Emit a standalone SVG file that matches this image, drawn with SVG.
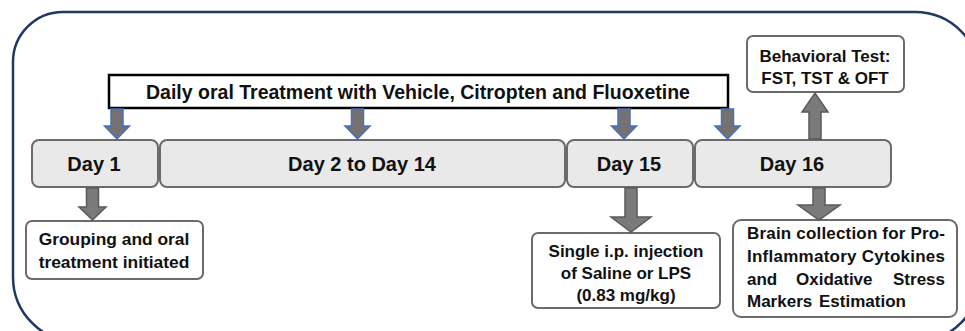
<svg xmlns="http://www.w3.org/2000/svg" width="965" height="331" viewBox="0 0 965 331">
<style>
.t{font-family:"Liberation Sans",Arial,sans-serif;font-weight:bold;fill:#111;}
.day{fill:#e9e9e9;stroke:#6b6b6b;stroke-width:2;}
.wbox{fill:#fff;stroke:#6b6b6b;stroke-width:2;}
.ta{fill:#767171;stroke:#4472c4;stroke-width:1.5;stroke-linejoin:miter;}
.ga{fill:#7a7a7a;stroke:#5a5a5a;stroke-width:1.5;}
</style>
<rect width="965" height="331" fill="#fff"/>
<path id="frame" d="M13,62 A50,50 0 0 1 63,12 L915,12 A65,65 0 0 1 980,77 L980,277 A65,65 0 0 1 915,342 L78,342 A65,65 0 0 1 13,277 Z" fill="none" stroke="#1f3864" stroke-width="2.5"/>
<g id="treatment">
<rect x="109" y="75" width="619" height="33" fill="#fff" stroke="#000" stroke-width="2.5"/>
<text class="t" x="418" y="98.5" font-size="19.5" text-anchor="middle">Daily oral Treatment with Vehicle, Citropten and Fluoxetine</text>
</g>
<g id="day1">
<rect class="day" x="32" y="140" width="126" height="47" rx="7"/>
<text class="t" x="94" y="171" font-size="20" text-anchor="middle">Day 1</text>
</g>
<g id="day2to14">
<rect class="day" x="160" y="140" width="405" height="47" rx="7"/>
<text class="t" x="362" y="171" font-size="20" text-anchor="middle">Day 2 to Day 14</text>
</g>
<g id="day15">
<rect class="day" x="567" y="140" width="126" height="47" rx="7"/>
<text class="t" x="629" y="171" font-size="20" text-anchor="middle">Day 15</text>
</g>
<g id="day16">
<rect class="day" x="695" y="140" width="196" height="47" rx="7"/>
<text class="t" x="792" y="171" font-size="20" text-anchor="middle">Day 16</text>
</g>
<g id="behavioral">
<rect class="wbox" x="747" y="36" width="157" height="56" rx="6"/>
<text class="t" x="825" y="62" font-size="17" text-anchor="middle">Behavioral Test:</text>
<text class="t" x="825" y="84" font-size="17" text-anchor="middle">FST, TST &amp; OFT</text>
</g>
<g id="grouping">
<rect class="wbox" x="26" y="221" width="177" height="58" rx="6"/>
<text class="t" x="114" y="245" font-size="17.4" text-anchor="middle">Grouping and oral</text>
<text class="t" x="114" y="268" font-size="17.4" text-anchor="middle">treatment initiated</text>
</g>
<g id="injection">
<rect class="wbox" x="532" y="233" width="188" height="75" rx="6"/>
<text class="t" x="626" y="257" font-size="17" text-anchor="middle">Single i.p. injection</text>
<text class="t" x="626" y="279" font-size="17" text-anchor="middle">of Saline or LPS</text>
<text class="t" x="626" y="301" font-size="17" text-anchor="middle">(0.83 mg/kg)</text>
</g>
<g id="brain">
<rect class="wbox" x="733" y="220" width="224" height="97" rx="8"/>
<text class="t" x="747" y="239" font-size="17" textLength="198" lengthAdjust="spacing">Brain collection for Pro-</text>
<text class="t" x="747" y="262" font-size="17" textLength="198" lengthAdjust="spacing">Inflammatory Cytokines</text>
<text class="t" x="747" y="285" font-size="17">and</text>
<text class="t" x="796" y="285" font-size="17">Oxidative</text>
<text class="t" x="945" y="285" font-size="17" text-anchor="end">Stress</text>
<text class="t" x="747" y="307" font-size="17">Markers</text>
<text class="t" x="819" y="307" font-size="17">Estimation</text>
</g>
<g id="connectors">
<path class="ta" d="M111,109 L123,109 L123,126 L129.5,126 L117,139 L104.5,126 L111,126 Z"/>
<path class="ta" d="M351.5,109 L363.5,109 L363.5,126 L370,126 L357.5,139 L345,126 L351.5,126 Z"/>
<path class="ta" d="M618,109 L630,109 L630,126 L636.5,126 L624,139 L611.5,126 L618,126 Z"/>
<path class="ta" d="M721.5,109 L733.5,109 L733.5,126 L740,126 L727.5,139 L715,126 L721.5,126 Z"/>
<path class="ga" d="M86.5,188 L98.5,188 L98.5,207 L106,207 L92.5,220 L79,207 L86.5,207 Z"/>
<path class="ga" d="M625,188 L637,188 L637,217 L651,217 L631,232 L611,217 L625,217 Z"/>
<path class="ga" d="M813,188 L825,188 L825,205 L840,205 L819,220 L798,205 L813,205 Z"/>
<path class="ga" d="M809,139 L821,139 L821,112 L828,112 L815,93 L802,112 L809,112 Z"/>
</g>
</svg>
